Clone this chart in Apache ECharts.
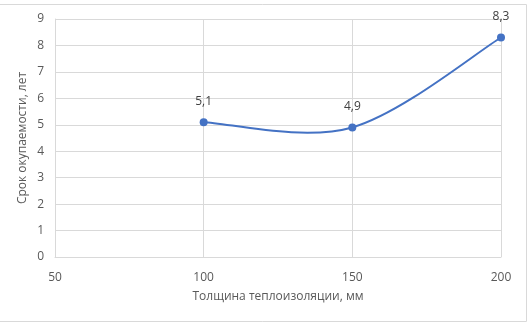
<!DOCTYPE html>
<html><head><meta charset="utf-8">
<script src="https://cdn.jsdelivr.net/npm/echarts@6/dist/echarts.min.js"></script>
<style>html,body{margin:0;padding:0;background:#fff}#c{width:530px;height:326px;}</style>
</head><body><div id="c"></div>
<script>
const xValues = [100, 150, 200];
const yValues = [5.1, 4.9, 8.3];
const xTitle = 'Толщина теплоизоляции, мм';
const yTitle = 'Срок окупаемости, лет';

const points = xValues.map((x, i) => [x, yValues[i]]);
const segments = points.slice(0, -1).map((p, i) => [p[0], p[1], i]);

const chart = echarts.init(document.getElementById('c'), null, {renderer: 'canvas'});
const font = '"Open Sans", "Noto Sans", sans-serif';

// Catmull-Rom style Bezier segment (Excel-like smoothing), computed in pixel space via the axes
function renderSegment(params, api) {
  const i = params.dataIndex;
  const P = points.map(p => api.coord(p));
  const p0 = P[Math.max(i - 1, 0)], p1 = P[i], p2 = P[i + 1], p3 = P[Math.min(i + 2, P.length - 1)];
  const k = 1 / 6;
  return {
    type: 'bezierCurve',
    shape: {
      x1: p1[0], y1: p1[1], x2: p2[0], y2: p2[1],
      cpx1: p1[0] + (p2[0] - p0[0]) * k, cpy1: p1[1] + (p2[1] - p0[1]) * k,
      cpx2: p2[0] - (p3[0] - p1[0]) * k, cpy2: p2[1] - (p3[1] - p1[1]) * k
    },
    style: {stroke: '#4472C4', lineWidth: 2, fill: null}
  };
}

chart.setOption({
  animation: false,
  graphic: [{
    type: 'rect', silent: true, z: -1,
    shape: {x: -1.5, y: 4.5, width: 528, height: 317},
    style: {fill: null, stroke: '#d9d9d9', lineWidth: 1}
  }],
  grid: {left: 55, right: 29, top: 19, bottom: 69, containLabel: false},
  xAxis: {
    type: 'value', min: 50, max: 200, interval: 50,
    name: xTitle, nameLocation: 'middle', nameGap: 34, nameMoveOverlap: false,
    nameTextStyle: {color: '#595959', fontSize: 12, fontFamily: font},
    axisLine: {lineStyle: {color: '#d9d9d9'}},
    axisTick: {show: false},
    axisLabel: {color: '#595959', fontSize: 12, fontFamily: font, margin: 15},
    splitLine: {show: true, lineStyle: {color: '#d9d9d9'}}
  },
  yAxis: {
    type: 'value', min: 0, max: 9, interval: 1,
    name: yTitle, nameLocation: 'middle', nameGap: 26, nameMoveOverlap: false,
    nameTextStyle: {color: '#595959', fontSize: 12, fontFamily: font},
    axisLine: {show: true, lineStyle: {color: '#d9d9d9'}},
    axisTick: {show: false},
    axisLabel: {color: '#595959', fontSize: 12, fontFamily: font, margin: 11},
    splitLine: {show: true, lineStyle: {color: '#d9d9d9'}}
  },
  series: [{
    type: 'custom',
    renderItem: renderSegment,
    data: segments,
    encode: {x: 0, y: 1},
    z: 2,
    silent: true
  }, {
    type: 'line',
    data: points,
    z: 3,
    symbol: 'circle', symbolSize: 8,
    lineStyle: {opacity: 0},
    itemStyle: {color: '#4472C4'},
    label: {show: true, position: 'top', distance: 11, color: '#404040', fontSize: 12, fontFamily: font,
      formatter: p => String(p.value[1]).replace('.', ',')}
  }]
});
</script></body></html>
